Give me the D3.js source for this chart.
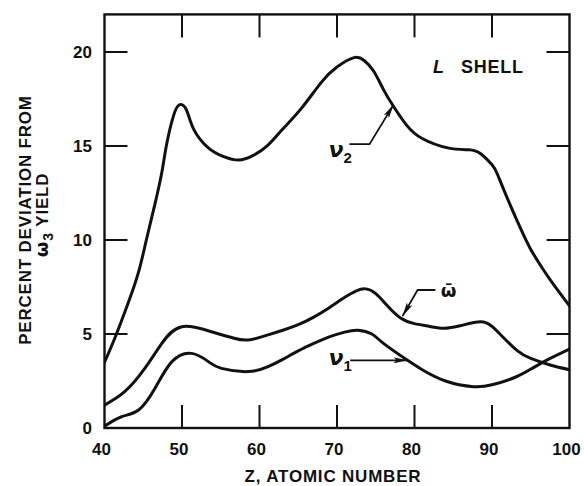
<!DOCTYPE html>
<html>
<head>
<meta charset="utf-8">
<script src="https://cdn.jsdelivr.net/npm/d3@7/dist/d3.min.js"></script>
<style>
  html, body { margin: 0; padding: 0; background: #fff; }
  svg { display: block; }
</style>
</head>
<body>
<svg id="chart" width="584" height="486"></svg>
<script>
// ---- data ----
const zNu2 = [40, 41.35, 43.1, 44.4, 45.4, 46.5, 47.4, 48.0, 48.9, 49.7, 50.6, 51.5, 53.4, 55.3, 57.3, 59.2, 61.1, 63, 65.4, 68, 70, 72.2, 73.5, 74.7, 76, 77.3, 79, 81, 84.3, 87, 88.5, 90, 90.7, 92, 93.7, 95, 96.5, 98, 100];
const vNu2 = [3.5, 4.8, 6.7, 8.3, 10.0, 11.9, 13.6, 15.05, 16.6, 17.2, 16.9, 15.9, 14.9, 14.45, 14.25, 14.5, 15.05, 15.9, 17.0, 18.4, 19.2, 19.7, 19.55, 19.0, 18.0, 17.1, 16.1, 15.4, 14.9, 14.8, 14.6, 14.0, 13.5, 12.2, 10.6, 9.5, 8.5, 7.6, 6.5];

const zOmega = [40, 42.6, 45.2, 47.4, 50.0, 53.8, 56.5, 58.55, 61.1, 63, 65, 67, 69, 71, 72.5, 73.7, 75, 76.5, 78.2, 80, 82, 83.8, 86, 88.5, 90, 91.5, 93.3, 95, 97.5, 100];
const vOmega = [1.22, 1.93, 3.17, 4.5, 5.39, 5.12, 4.8, 4.68, 4.95, 5.2, 5.5, 5.9, 6.4, 6.95, 7.3, 7.4, 7.15, 6.5, 5.85, 5.55, 5.4, 5.3, 5.45, 5.65, 5.4, 4.8, 4.1, 3.7, 3.35, 3.1];

const zNu1 = [40, 42.2, 44.4, 46.5, 48.7, 51.25, 53.4, 55.1, 58.55, 61.1, 63, 65, 67, 69, 71, 72.7, 74.5, 76, 79.1, 81, 84, 87.6, 90, 93, 95.3, 97.5, 100];
const vNu1 = [0.1, 0.6, 0.96, 2.1, 3.53, 3.97, 3.53, 3.17, 3.0, 3.26, 3.65, 4.1, 4.5, 4.85, 5.1, 5.2, 5.0, 4.5, 3.6, 3.1, 2.5, 2.2, 2.3, 2.7, 3.2, 3.7, 4.2];

const xTicks = [40, 50, 60, 70, 80, 90, 100];
const yTicks = [0, 5, 10, 15, 20];
const xTickLabels = ["40", "50", "60", "70", "80", "90", "100"];
const yTickLabels = ["0", "5", "10", "15", "20"];

// annotations in data coordinates
const leaders = [
  { name: "nu2", label: "ν", sub: "2", labelAt: [68.9, 14.4], path: [[71.6, 15.1], [74.2, 15.1], [77.3, 17.2]] },
  { name: "omega", label: "ω̄", sub: "", labelAt: [83.4, 6.97], path: [[82.7, 7.34], [80.4, 7.34], [78.45, 5.95]] },
  { name: "nu1", label: "ν", sub: "1", labelAt: [68.9, 3.35], path: [[71.7, 3.6], [79.1, 3.6]] }
];

// ---- drawing ----
const svg = d3.select("#chart");
const x = d3.scaleLinear().domain([40, 100]).range([104.5, 569.5]);
const y = d3.scaleLinear().domain([0, 22]).range([428, 428 - 22 * 18.8]);
const ink = "#111";
const font = "'Liberation Sans', Arial, sans-serif";

// frame
svg.append("rect")
  .attr("x", x(40)).attr("y", y(22))
  .attr("width", x(100) - x(40)).attr("height", y(0) - y(22))
  .attr("fill", "none").attr("stroke", ink).attr("stroke-width", 2.4);

const tickLen = 23;
const innerX = xTicks.filter(d => d > 40 && d < 100);
svg.append("g").selectAll("line").data(innerX).join("line")
  .attr("x1", d => x(d)).attr("x2", d => x(d))
  .attr("y1", y(0)).attr("y2", y(0) - tickLen)
  .attr("stroke", ink).attr("stroke-width", 2);
svg.append("g").selectAll("line").data(innerX).join("line")
  .attr("x1", d => x(d)).attr("x2", d => x(d))
  .attr("y1", y(22)).attr("y2", y(22) + tickLen)
  .attr("stroke", ink).attr("stroke-width", 2);
const innerY = yTicks.filter(d => d > 0);
svg.append("g").selectAll("line").data(innerY).join("line")
  .attr("x1", x(40)).attr("x2", x(40) + tickLen)
  .attr("y1", d => y(d)).attr("y2", d => y(d))
  .attr("stroke", ink).attr("stroke-width", 2);
svg.append("g").selectAll("line").data(innerY).join("line")
  .attr("x1", x(100)).attr("x2", x(100) - tickLen)
  .attr("y1", d => y(d)).attr("y2", d => y(d))
  .attr("stroke", ink).attr("stroke-width", 2);

// tick labels
svg.append("g").selectAll("text").data(xTicks).join("text")
  .attr("x", d => x(d) - 3).attr("y", 455)
  .attr("text-anchor", "middle")
  .attr("font-family", font).attr("font-weight", "bold").attr("font-size", 17)
  .attr("fill", ink)
  .text((d, i) => xTickLabels[i]);
svg.append("g").selectAll("text").data(yTicks).join("text")
  .attr("x", 92).attr("y", d => y(d) + 6)
  .attr("text-anchor", "end")
  .attr("font-family", font).attr("font-weight", "bold").attr("font-size", 17)
  .attr("fill", ink)
  .text((d, i) => yTickLabels[i]);

// axis titles
svg.append("text")
  .attr("x", 333).attr("y", 482)
  .attr("text-anchor", "middle")
  .attr("font-family", font).attr("font-weight", "bold").attr("font-size", 17)
  .attr("letter-spacing", 0.8)
  .attr("fill", ink)
  .text("Z, ATOMIC NUMBER");

svg.append("text")
  .attr("transform", "translate(31,220) rotate(-90)")
  .attr("text-anchor", "middle")
  .attr("font-family", font).attr("font-weight", "bold").attr("font-size", 17)
  .attr("letter-spacing", 0.8)
  .attr("fill", ink)
  .text("PERCENT DEVIATION FROM");

const t2 = svg.append("text")
  .attr("transform", "translate(48,215) rotate(-90)")
  .attr("text-anchor", "middle")
  .attr("font-family", font).attr("font-weight", "bold").attr("font-size", 17)
  .attr("letter-spacing", 0.8)
  .attr("fill", ink);
t2.append("tspan").attr("font-family", "'DejaVu Sans', sans-serif").attr("font-size", 18).text("ω");
t2.append("tspan").attr("dy", 5).attr("font-size", 14).text("3");
t2.append("tspan").attr("dy", -5).text(" YIELD");

// L SHELL
const ls = svg.append("text")
  .attr("x", x(82.4)).attr("y", y(18.9))
  .attr("font-family", font).attr("font-size", 18).attr("font-weight", 600)
  .attr("letter-spacing", 0.8)
  .attr("fill", ink);
ls.append("tspan").attr("font-style", "italic").text("L");
ls.append("tspan").attr("dx", 16).text("SHELL");

// curves
const line = d3.line().x(d => x(d[0])).y(d => y(d[1])).curve(d3.curveNatural);
const series = [
  zNu2.map((z, i) => [z, vNu2[i]]),
  zOmega.map((z, i) => [z, vOmega[i]]),
  zNu1.map((z, i) => [z, vNu1[i]])
];
const defs = svg.append("defs");
defs.append("clipPath").attr("id", "clip")
  .append("rect").attr("x", x(40)).attr("y", y(22))
  .attr("width", x(100) - x(40)).attr("height", y(0) - y(22));
svg.append("g").attr("clip-path", "url(#clip)")
  .selectAll("path").data(series).join("path")
  .attr("d", line)
  .attr("fill", "none").attr("stroke", ink).attr("stroke-width", 3)
  .attr("stroke-linejoin", "round").attr("stroke-linecap", "round");

// leaders with arrowheads
defs.append("marker").attr("id", "arrow")
  .attr("viewBox", "0 0 14 6").attr("refX", 14).attr("refY", 3)
  .attr("markerWidth", 14).attr("markerHeight", 6)
  .attr("markerUnits", "userSpaceOnUse").attr("orient", "auto")
  .append("path").attr("d", "M0,0 L14,3 L0,6 L3,3 Z").attr("fill", ink);

const pl = d3.line().x(d => x(d[0])).y(d => y(d[1]));
leaders.forEach(a => {
  svg.append("path").attr("d", pl(a.path))
    .attr("fill", "none").attr("stroke", ink).attr("stroke-width", 1.8)
    .attr("marker-end", "url(#arrow)");
  const t = svg.append("text")
    .attr("x", x(a.labelAt[0])).attr("y", y(a.labelAt[1]))
    .attr("font-family", "'DejaVu Sans', sans-serif").attr("font-weight", "bold")
    .attr("fill", ink);
  if (a.sub === "") {
    t.attr("font-size", 18).text(a.label);
  } else {
    t.append("tspan").attr("font-size", 22).attr("font-style", "italic").text(a.label);
    t.append("tspan").attr("font-size", 15).attr("dy", 6).attr("font-family", font).text(a.sub);
  }
});
</script>
</body>
</html>
